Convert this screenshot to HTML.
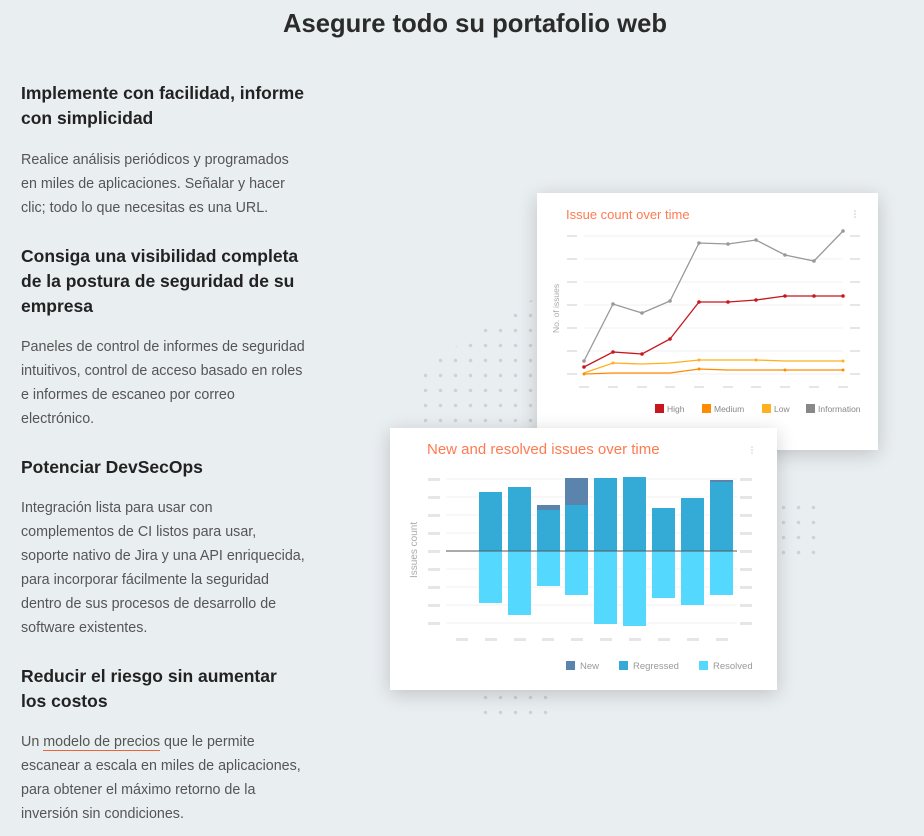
<!DOCTYPE html>
<html><head><meta charset="utf-8"><style>
*{margin:0;padding:0;box-sizing:border-box}
body{width:924px;height:836px;background:#e9eef1;font-family:"Liberation Sans",Arial,sans-serif;position:relative;overflow:hidden}
h1{position:absolute;left:0;width:950px;top:10px;text-align:center;font-size:25.6px;font-weight:bold;color:#2b2b2b}
.h{position:absolute;left:21px;font-size:17.5px;font-weight:bold;color:#222;line-height:25px}
.p{position:absolute;left:21px;font-size:14.3px;color:#555;line-height:24px}
.dots{position:absolute;background-image:radial-gradient(circle,#cdd2d6 1.5px,transparent 2px);background-size:15px 15px}
.card{position:absolute;background:#fff;box-shadow:0 4px 18px rgba(0,0,0,0.18)}
</style></head><body>
<h1>Asegure todo su portafolio web</h1>
<div class="h" style="top:81px">Implemente con facilidad, informe<br>con simplicidad</div>
<div class="p" style="top:148px">Realice análisis periódicos y programados<br>en miles de aplicaciones. Señalar y hacer<br>clic; todo lo que necesitas es una URL.</div>
<div class="h" style="top:244px">Consiga una visibilidad completa<br>de la postura de seguridad de su<br>empresa</div>
<div class="p" style="top:335px">Paneles de control de informes de seguridad<br>intuitivos, control de acceso basado en roles<br>e informes de escaneo por correo<br>electrónico.</div>
<div class="h" style="top:455px">Potenciar DevSecOps</div>
<div class="p" style="top:496px">Integración lista para usar con<br>complementos de CI listos para usar,<br>soporte nativo de Jira y una API enriquecida,<br>para incorporar fácilmente la seguridad<br>dentro de sus procesos de desarrollo de<br>software existentes.</div>
<div class="h" style="top:664px">Reducir el riesgo sin aumentar<br>los costos</div>
<div class="p" style="top:730px">Un <span style="border-bottom:1px solid #e8643c">modelo de precios</span> que le permite<br>escanear a escala en miles de aplicaciones,<br>para obtener el máximo retorno de la<br>inversión sin condiciones.</div>

<div class="dots" style="left:418px;top:293px;width:125px;height:140px;clip-path:polygon(100% 0,100% 100%,0 100%,0 55%)"></div>
<div class="dots" style="left:776px;top:500px;width:40px;height:58px"></div>
<div class="dots" style="left:478px;top:690px;width:78px;height:34px"></div>

<div class="card" style="left:537px;top:193px;width:341px;height:257px">
<svg width="341" height="257" style="position:absolute;left:0;top:0" font-family="Liberation Sans,sans-serif">
<text x="29" y="26" font-size="13" fill="#ff7a50">Issue count over time</text>
<g fill="#c8c8c8"><circle cx="318" cy="18" r="0.8"/><circle cx="318" cy="21" r="0.8"/><circle cx="318" cy="24" r="0.8"/></g>
<g stroke="#f0f0f0">
<line x1="47" y1="43" x2="306" y2="43"/><line x1="47" y1="66" x2="306" y2="66"/><line x1="47" y1="89" x2="306" y2="89"/><line x1="47" y1="112" x2="306" y2="112"/><line x1="47" y1="135" x2="306" y2="135"/><line x1="47" y1="158" x2="306" y2="158"/><line x1="47" y1="181" x2="306" y2="181"/>
</g>
<g fill="#e6e6e6">
<rect x="30" y="42" width="10" height="2"/><rect x="30" y="65" width="10" height="2"/><rect x="30" y="88" width="10" height="2"/><rect x="30" y="111" width="10" height="2"/><rect x="30" y="134" width="10" height="2"/><rect x="30" y="157" width="10" height="2"/><rect x="30" y="180" width="10" height="2"/>
<rect x="313" y="42" width="10" height="2"/><rect x="313" y="65" width="10" height="2"/><rect x="313" y="88" width="10" height="2"/><rect x="313" y="111" width="10" height="2"/><rect x="313" y="134" width="10" height="2"/><rect x="313" y="157" width="10" height="2"/><rect x="313" y="180" width="10" height="2"/>
<rect x="42" y="193" width="10" height="2"/><rect x="71" y="193" width="10" height="2"/><rect x="100" y="193" width="10" height="2"/><rect x="128" y="193" width="10" height="2"/><rect x="157" y="193" width="10" height="2"/><rect x="186" y="193" width="10" height="2"/><rect x="214" y="193" width="10" height="2"/><rect x="243" y="193" width="10" height="2"/><rect x="272" y="193" width="10" height="2"/><rect x="301" y="193" width="10" height="2"/>
</g>
<text transform="translate(22,140) rotate(-90)" font-size="8.5" fill="#aaa">No. of issues</text>
<g stroke-width="1.3">
<polyline fill="none" stroke="#999" points="47,168 76,111 105,120 133,108 162,50 191,51 219,47 248,62 277,68 306,38"/>
<polyline fill="none" stroke="#c8161d" points="47,174 76,159 105,161 133,146 162,109 191,109 219,107 248,103 277,103 306,103"/>
<polyline fill="none" stroke="#ffb020" points="47,180 76,170 105,171 133,170 162,167 191,167 219,167 248,168 277,168 306,168"/>
<polyline fill="none" stroke="#ff8c00" points="47,181 76,180 105,180 133,180 162,176 191,177 219,177 248,177 277,177 306,177"/>
</g>
<g fill="#999"><circle cx="47" cy="168" r="1.8"/><circle cx="76" cy="111" r="1.8"/><circle cx="105" cy="120" r="1.8"/><circle cx="133" cy="108" r="1.8"/><circle cx="162" cy="50" r="1.8"/><circle cx="191" cy="51" r="1.8"/><circle cx="219" cy="47" r="1.8"/><circle cx="248" cy="62" r="1.8"/><circle cx="277" cy="68" r="1.8"/><circle cx="306" cy="38" r="1.8"/></g>
<g fill="#c8161d"><circle cx="47" cy="174" r="1.8"/><circle cx="76" cy="159" r="1.8"/><circle cx="105" cy="161" r="1.8"/><circle cx="133" cy="146" r="1.8"/><circle cx="162" cy="109" r="1.8"/><circle cx="191" cy="109" r="1.8"/><circle cx="219" cy="107" r="1.8"/><circle cx="248" cy="103" r="1.8"/><circle cx="277" cy="103" r="1.8"/><circle cx="306" cy="103" r="1.8"/></g>
<g fill="#ffb020"><circle cx="76" cy="170" r="1.5"/><circle cx="162" cy="167" r="1.5"/><circle cx="219" cy="167" r="1.5"/><circle cx="306" cy="168" r="1.5"/></g>
<g fill="#ff8c00"><circle cx="47" cy="181" r="1.5"/><circle cx="162" cy="176" r="1.5"/><circle cx="248" cy="177" r="1.5"/><circle cx="306" cy="177" r="1.5"/></g>
<rect x="118" y="211" width="9" height="9" fill="#c8161d"/><text x="130" y="219" font-size="8.5" fill="#888">High</text>
<rect x="165" y="211" width="9" height="9" fill="#ff8c00"/><text x="177" y="219" font-size="8.5" fill="#888">Medium</text>
<rect x="225" y="211" width="9" height="9" fill="#ffb020"/><text x="237" y="219" font-size="8.5" fill="#888">Low</text>
<rect x="269" y="211" width="9" height="9" fill="#888"/><text x="281" y="219" font-size="8.5" fill="#888">Information</text>
</svg></div>

<div class="card" style="left:390px;top:428px;width:387px;height:262px">
<svg width="387" height="262" style="position:absolute;left:0;top:0" font-family="Liberation Sans,sans-serif">
<text x="37" y="26" font-size="15" fill="#ff7a50">New and resolved issues over time</text>
<g fill="#ccc"><circle cx="362" cy="19" r="0.8"/><circle cx="362" cy="22" r="0.8"/><circle cx="362" cy="25" r="0.8"/></g>
<g stroke="#f2f2f2">
<line x1="56" y1="51" x2="347" y2="51"/><line x1="56" y1="69" x2="347" y2="69"/><line x1="56" y1="87" x2="347" y2="87"/><line x1="56" y1="105" x2="347" y2="105"/><line x1="56" y1="141" x2="347" y2="141"/><line x1="56" y1="159" x2="347" y2="159"/><line x1="56" y1="177" x2="347" y2="177"/><line x1="56" y1="195" x2="347" y2="195"/>
</g>
<g fill="#e6e6e6">
<rect x="38" y="50" width="12" height="3"/><rect x="38" y="68" width="12" height="3"/><rect x="38" y="86" width="12" height="3"/><rect x="38" y="104" width="12" height="3"/><rect x="38" y="122" width="12" height="3"/><rect x="38" y="140" width="12" height="3"/><rect x="38" y="158" width="12" height="3"/><rect x="38" y="176" width="12" height="3"/><rect x="38" y="194" width="12" height="3"/>
<rect x="350" y="50" width="12" height="3"/><rect x="350" y="68" width="12" height="3"/><rect x="350" y="86" width="12" height="3"/><rect x="350" y="104" width="12" height="3"/><rect x="350" y="122" width="12" height="3"/><rect x="350" y="140" width="12" height="3"/><rect x="350" y="158" width="12" height="3"/><rect x="350" y="176" width="12" height="3"/><rect x="350" y="194" width="12" height="3"/>
<rect x="66" y="210" width="12" height="3"/><rect x="95" y="210" width="12" height="3"/><rect x="124" y="210" width="12" height="3"/><rect x="152" y="210" width="12" height="3"/><rect x="181" y="210" width="12" height="3"/><rect x="210" y="210" width="12" height="3"/><rect x="239" y="210" width="12" height="3"/><rect x="268" y="210" width="12" height="3"/><rect x="297" y="210" width="12" height="3"/><rect x="326" y="210" width="12" height="3"/>
</g>
<text transform="translate(27,150) rotate(-90)" font-size="10" fill="#aaa">Issues count</text>
<g fill="#33abd6">
<rect x="89" y="64" width="23" height="59"/><rect x="118" y="59" width="23" height="64"/><rect x="147" y="82" width="23" height="41"/><rect x="175" y="77" width="23" height="46"/><rect x="204" y="50" width="23" height="73"/><rect x="233" y="49" width="23" height="74"/><rect x="262" y="80" width="23" height="43"/><rect x="291" y="70" width="23" height="53"/><rect x="320" y="53" width="23" height="70"/>
</g>
<g fill="#5a84ac"><rect x="147" y="77" width="23" height="5"/><rect x="175" y="50" width="23" height="27"/><rect x="320" y="52" width="23" height="2"/></g>
<g fill="#55d8fe">
<rect x="89" y="123" width="23" height="52"/><rect x="118" y="123" width="23" height="64"/><rect x="147" y="123" width="23" height="35"/><rect x="175" y="123" width="23" height="44"/><rect x="204" y="123" width="23" height="73"/><rect x="233" y="123" width="23" height="75"/><rect x="262" y="123" width="23" height="47"/><rect x="291" y="123" width="23" height="54"/><rect x="320" y="123" width="23" height="44"/>
</g>
<line x1="56" y1="123" x2="347" y2="123" stroke="#555" stroke-width="1"/>
<rect x="176" y="233" width="9" height="9" fill="#5a84ac"/><text x="190" y="241" font-size="9.5" fill="#999">New</text>
<rect x="229" y="233" width="9" height="9" fill="#33abd6"/><text x="243" y="241" font-size="9.5" fill="#999">Regressed</text>
<rect x="309" y="233" width="9" height="9" fill="#55d8fe"/><text x="323" y="241" font-size="9.5" fill="#999">Resolved</text>
</svg></div>
</body></html>
